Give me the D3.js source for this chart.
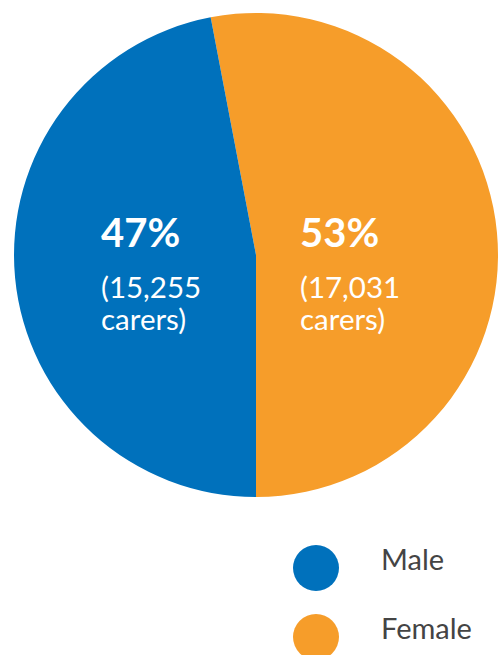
<!DOCTYPE html>
<html>
<head>
<meta charset="utf-8">
<script src="https://cdn.jsdelivr.net/npm/d3@7"></script>
<style>
  html, body { margin: 0; padding: 0; background: #fff; }
  svg { display: block; }
</style>
</head>
<body>
<svg id="chart" width="498" height="655"></svg>
<script>
// Carers by gender
const categories = ["Female", "Male"];
const percents = [53, 47];
const counts = [17031, 15255];
const legendOrder = ["Male", "Female"];

const colour = d3.scaleOrdinal()
  .domain(["Male", "Female"])
  .range(["#0071bc", "#f69d2a"]);

const svg = d3.select("#chart");
const cx = 256, cy = 255, r = 242;

const data = categories.map((c, i) => ({ name: c, pct: percents[i], count: counts[i] }));

// Female slice ends at the bottom of the circle; Male fills the rest
const femaleAngle = percents[0] / 100 * 2 * Math.PI;
const pie = d3.pie()
  .value(d => d.pct)
  .sort(null)
  .startAngle(Math.PI - femaleAngle)
  .endAngle(3 * Math.PI - femaleAngle);

const arc = d3.arc().innerRadius(0).outerRadius(r);

const g = svg.append("g").attr("transform", `translate(${cx},${cy})`);
g.selectAll("path")
  .data(pie(data))
  .join("path")
  .attr("d", arc)
  .attr("fill", d => colour(d.data.name));

// Slice labels
const labelX = { Male: 101 - cx, Female: 300 - cx };
const fmt = d3.format(",");
const font = "Lato, 'Open Sans', sans-serif";
const labels = g.selectAll("g.lbl")
  .data(data)
  .join("g")
  .attr("class", "lbl")
  .attr("transform", d => `translate(${labelX[d.name]},0)`);

labels.append("text")
  .attr("y", 246.5 - cy)
  .attr("fill", "#fff")
  .style("font-family", font)
  .style("font-weight", 700)
  .style("font-size", "40px")
  .text(d => d.pct + "%");

labels.append("text")
  .attr("y", 298 - cy)
  .attr("fill", "#fff")
  .style("font-family", font)
  .style("font-size", "29.5px")
  .text(d => "(" + fmt(d.count));

labels.append("text")
  .attr("y", 330 - cy)
  .attr("fill", "#fff")
  .style("font-family", font)
  .style("font-size", "29.5px")
  .text("carers)");

// Legend
const legendY = d3.scalePoint().domain(legendOrder).range([568, 637]);
const legend = svg.append("g");
const item = legend.selectAll("g")
  .data(legendOrder)
  .join("g")
  .attr("transform", d => `translate(0,${legendY(d)})`);
item.append("circle")
  .attr("cx", 316)
  .attr("r", 23)
  .attr("fill", d => colour(d));
item.append("text")
  .attr("x", 381)
  .attr("y", 1.5)
  .attr("fill", "#444")
  .style("font-family", font)
  .style("font-size", "29px")
  .text(d => d);
</script>
</body>
</html>
